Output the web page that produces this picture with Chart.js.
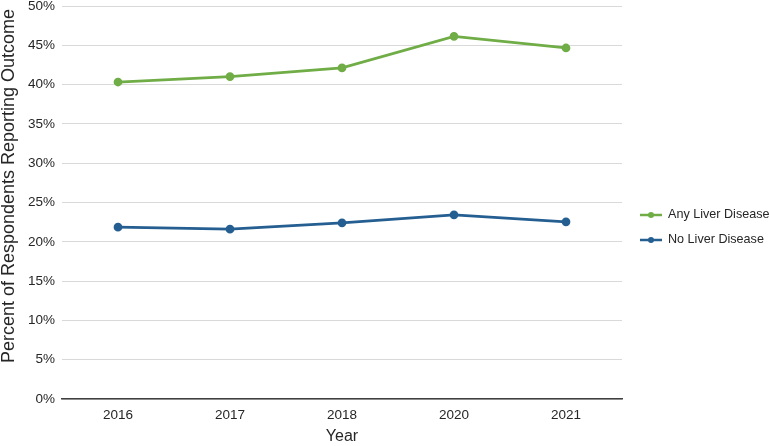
<!DOCTYPE html>
<html>
<head>
<meta charset="utf-8">
<script src="https://cdn.jsdelivr.net/npm/chart.js@4/dist/chart.umd.min.js"></script>
<style>
html,body{margin:0;padding:0;background:#fff;}
#wrap{width:769px;height:446px;position:relative;}
</style>
</head>
<body>
<div id="wrap"><canvas id="c" width="769" height="446"></canvas></div>
<script>
const categories = ['2016', '2017', '2018', '2020', '2021'];
const anyLiver = [40.33, 41.02, 42.12, 46.14, 44.66];
const noLiver = [21.86, 21.61, 22.41, 23.43, 22.54];
const seriesNames = ['Any Liver Disease', 'No Liver Disease'];
const seriesColors = ['#70ad47', '#255e91'];
const yTicks = [0, 5, 10, 15, 20, 25, 30, 35, 40, 45, 50];
const yTitle = 'Percent of Respondents Reporting Outcome';

const FONT = "'Liberation Sans', Arial, sans-serif";
const TEXT = '#262626';

const overlayPlugin = {
  id: 'overlay',
  afterDraw(chart) {
    const ctx = chart.ctx;
    ctx.save();
    // y-axis title
    ctx.save();
    ctx.translate(9, 186);
    ctx.rotate(-Math.PI / 2);
    ctx.fillStyle = TEXT;
    ctx.font = "18px " + FONT;
    ctx.textAlign = 'center';
    ctx.textBaseline = 'middle';
    ctx.fillText(yTitle, 0, 0);
    ctx.restore();
    // legend
    const x0 = 640, lineLen = 22;
    const ys = [215, 240];
    chart.data.datasets.forEach((ds, i) => {
      const y = ys[i];
      ctx.strokeStyle = ds.borderColor;
      ctx.lineWidth = 2.5;
      ctx.beginPath();
      ctx.moveTo(x0, y);
      ctx.lineTo(x0 + lineLen, y);
      ctx.stroke();
      ctx.fillStyle = ds.borderColor;
      ctx.beginPath();
      ctx.arc(x0 + lineLen / 2, y, 3, 0, Math.PI * 2);
      ctx.fill();
      ctx.fillStyle = TEXT;
      ctx.font = "12.6px " + FONT;
      ctx.textBaseline = 'middle';
      ctx.textAlign = 'left';
      ctx.fillText(ds.label, x0 + lineLen + 6, y);
    });
    ctx.restore();
  }
};

new Chart(document.getElementById('c'), {
  type: 'line',
  data: {
    labels: categories,
    datasets: [
      { label: seriesNames[0], data: anyLiver, borderColor: seriesColors[0], backgroundColor: seriesColors[0],
        borderWidth: 2.75, pointRadius: 3, pointHoverRadius: 3, tension: 0 },
      { label: seriesNames[1], data: noLiver, borderColor: seriesColors[1], backgroundColor: seriesColors[1],
        borderWidth: 2.75, pointRadius: 3, pointHoverRadius: 3, tension: 0 }
    ]
  },
  options: {
    responsive: false,
    animation: false,
    devicePixelRatio: 1,
    layout: { padding: { left: 0, right: 147, top: 0, bottom: 0 } },
    plugins: { legend: { display: false }, tooltip: { enabled: false } },
    scales: {
      x: {
        offset: true,
        grid: { display: false, drawTicks: false },
        border: { display: true, color: '#404040', width: 1.5 },
        ticks: { color: TEXT, font: { family: FONT, size: 13.5 }, padding: 8 },
        title: { display: true, text: 'Year', color: TEXT, font: { family: FONT, size: 16 }, padding: { top: 2, bottom: 0 } },
        afterFit(scale) { scale.height = 47; }
      },
      y: {
        min: 0, max: 50,
        afterBuildTicks(scale) { scale.ticks = yTicks.map(v => ({ value: v })); },
        grid: { color: '#d9d9d9', lineWidth: 1, drawTicks: false },
        border: { display: false },
        ticks: { color: TEXT, font: { family: FONT, size: 13.5 }, padding: 7, callback: v => v + '%' },
        title: { display: false },
        afterFit(scale) { scale.width = 62; scale.paddingTop = 6; scale.paddingBottom = 0; }
      }
    }
  },
  plugins: [overlayPlugin]
});
</script>
</body>
</html>
